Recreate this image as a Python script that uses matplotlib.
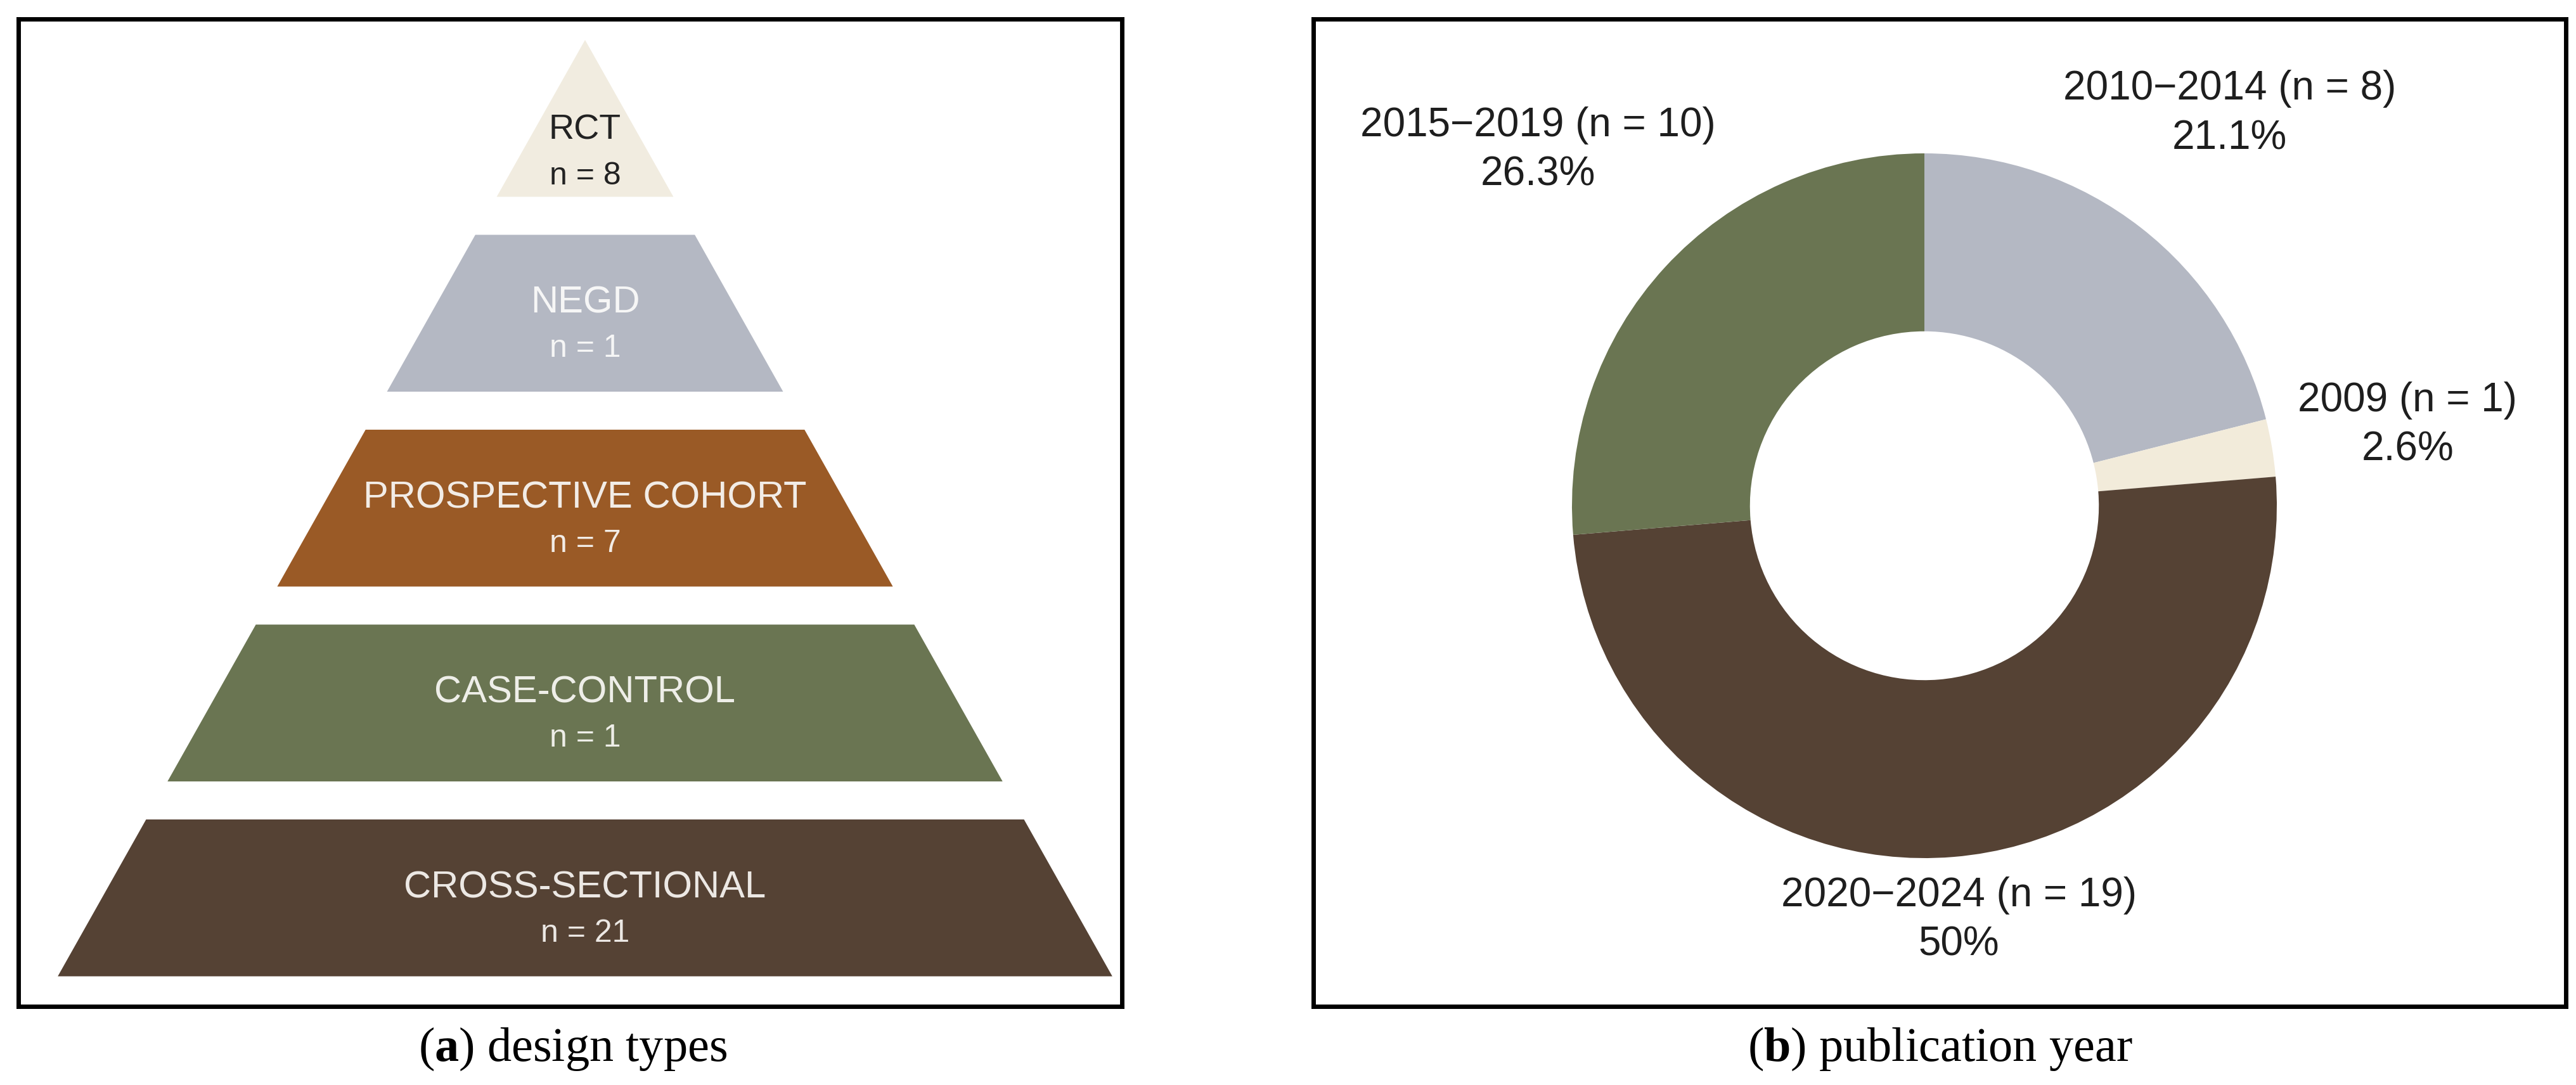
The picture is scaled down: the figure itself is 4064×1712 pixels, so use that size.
import numpy as np
import matplotlib
matplotlib.use("Agg")
import matplotlib.pyplot as plt
from matplotlib.patches import Polygon

# ---------------- data ----------------
design_types = ["RCT", "NEGD", "PROSPECTIVE COHORT", "CASE-CONTROL", "CROSS-SECTIONAL"]
design_counts = [8, 1, 7, 1, 21]
design_colors = ["#F1ECE0", "#B4B8C3", "#9A5A26", "#6A7552", "#554234"]
design_text_colors = ["#222222", "#F6F6F6", "#F2ECE6", "#EEEEE8", "#ECE8E4"]

year_labels = ["2010\u22122014", "2009", "2020\u22122024", "2015\u22122019"]
year_counts = [8, 1, 19, 10]
year_colors = ["#B4B8C3", "#F2EBDA", "#554234", "#6A7552"]

captions = [("a", "design types"), ("b", "publication year")]

# ---------------- layout ----------------
W, H = 4064, 1712
DPI = 100
plt.rcParams["mathtext.fontset"] = "custom"
plt.rcParams["mathtext.rm"] = "Liberation Serif"
plt.rcParams["mathtext.bf"] = "Liberation Serif:bold"

fig = plt.figure(figsize=(W / DPI, H / DPI), dpi=DPI)
fig.patch.set_facecolor("white")

SANS = ["Liberation Sans", "DejaVu Sans"]


def box_axes(x0, x1, ytop, ybot):
    ax = fig.add_axes([x0 / W, (H - ybot) / H, (x1 - x0) / W, (ybot - ytop) / H])
    ax.set_xlim(x0, x1)
    ax.set_ylim(H - ybot, H - ytop)
    ax.set_xticks([])
    ax.set_yticks([])
    for s in ax.spines.values():
        s.set_linewidth(5.0)
        s.set_color("black")
    return ax


# ---------- (a) pyramid ----------
axL = box_axes(29, 1770, 30, 1588)
apex_x, apex_y = 923, 63          # pixel coords from top
slope = 0.563                     # half-width per pixel of height
band_h, gap = 247.5, 60.0
for i, (name, n, col, tcol) in enumerate(zip(design_types, design_counts,
                                                design_colors, design_text_colors)):
    top = apex_y + i * (band_h + gap)
    bot = top + band_h
    ht = (top - apex_y) * slope
    hb = (bot - apex_y) * slope
    pts = [(apex_x - ht, H - top), (apex_x + ht, H - top),
           (apex_x + hb, H - bot), (apex_x - hb, H - bot)]
    axL.add_patch(Polygon(pts, closed=True, facecolor=col, edgecolor="none"))
    mid = (top + bot) / 2 + (55 if i == 0 else 20)
    axL.text(apex_x, H - (mid - 36), name, ha="center", va="center",
             fontsize=43 if i else 40, color=tcol, family=SANS)
    axL.text(apex_x, H - (mid + 36), f"n = {n}", ha="center", va="center",
             fontsize=36, color=tcol, family=SANS)

# ---------- (b) donut ----------
axR = box_axes(2072, 4048, 30, 1588)
cx, cy, R = 3036, 798, 556
wedges, _ = axR.pie(year_counts, colors=year_colors, startangle=90,
                    counterclock=False, center=(cx, H - cy), radius=R,
                    wedgeprops=dict(width=R * 0.505, edgecolor="none"),
                    frame=True)
axR.set_xlim(2072, 4048)
axR.set_ylim(H - 1588, H - 30)
axR.set_xticks([])
axR.set_yticks([])

total = sum(year_counts)
label_dist = [1.41, 1.39, 1.18, 1.49]
for w, lab, n, d in zip(wedges, year_labels, year_counts, label_dist):
    ang = np.deg2rad((w.theta1 + w.theta2) / 2)
    pct = 100 * n / total
    ptxt = f"{pct:.1f}".rstrip("0").rstrip(".") + "%"
    x = cx + d * R * np.cos(ang)
    y = (H - cy) + d * R * np.sin(ang)
    axR.text(x, y, f"{lab} (n = {n})\n{ptxt}", ha="center", va="center",
             multialignment="center", linespacing=1.38,
             fontsize=46, color="#1E1E1E", family=SANS)

# ---------- captions ----------
for (letter, txt), xc in zip(captions, [904, 3061]):
    fig.text(xc / W, 1 - 1655 / H, rf"($\mathbf{{{letter}}}$) {txt}",
             ha="center", va="center", fontsize=55, family="Liberation Serif",
             color="black")

fig.savefig("out.png", dpi=DPI, facecolor="white")
